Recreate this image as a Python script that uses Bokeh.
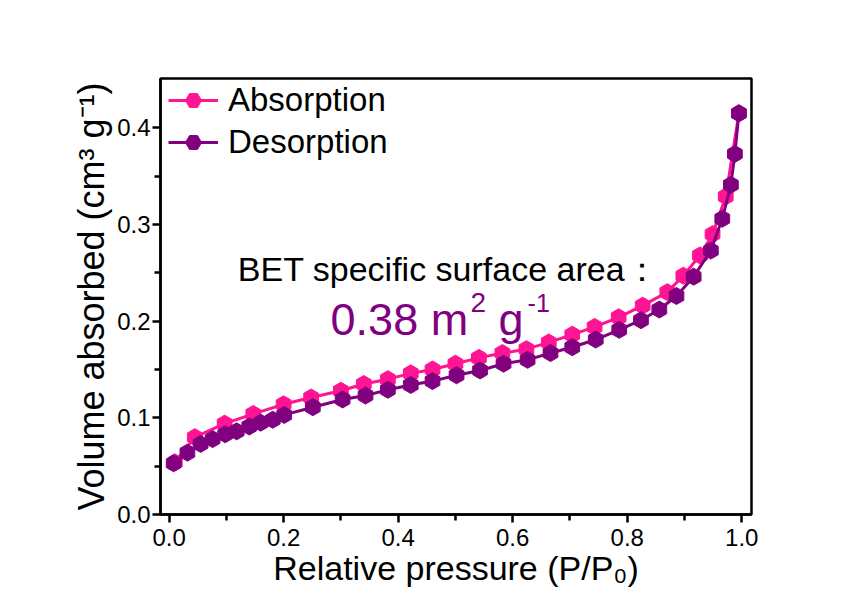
import math
from bokeh.plotting import figure
from bokeh.models import (ColumnDataSource, FixedTicker, Legend, LegendItem, Range1d)
from bokeh.core.properties import value
from bokeh.embed import file_html
from bokeh.resources import INLINE

# ---- data ----
ads_x = [0.01, 0.045, 0.097, 0.147, 0.2, 0.248, 0.3, 0.34, 0.382, 0.422, 0.46, 0.5, 0.541,
         0.582, 0.624, 0.663, 0.704, 0.743, 0.785, 0.827, 0.87, 0.898, 0.927, 0.949, 0.972, 0.995]
ads_y = [0.054, 0.080, 0.094, 0.104, 0.114, 0.121, 0.128, 0.135, 0.140, 0.146, 0.150, 0.156, 0.162,
         0.167, 0.171, 0.178, 0.186, 0.194, 0.204, 0.216, 0.230, 0.247, 0.268, 0.290, 0.329, 0.415]

des_x = [0.008, 0.032, 0.055, 0.076, 0.098, 0.118, 0.14, 0.16, 0.181, 0.201, 0.251, 0.303, 0.343,
         0.382, 0.422, 0.46, 0.502, 0.543, 0.584, 0.626, 0.666, 0.704, 0.745, 0.786, 0.824, 0.856,
         0.886, 0.916, 0.946, 0.966, 0.981, 0.988, 0.995]
des_y = [0.053, 0.064, 0.073, 0.078, 0.083, 0.086, 0.091, 0.095, 0.098, 0.103, 0.111, 0.119, 0.123,
         0.129, 0.134, 0.138, 0.144, 0.149, 0.156, 0.160, 0.167, 0.173, 0.181, 0.191, 0.201, 0.212,
         0.226, 0.246, 0.273, 0.306, 0.341, 0.373, 0.415]

series_names = ["Absorption", "Desorption"]
x_ticks = [0.0, 0.2, 0.4, 0.6, 0.8, 1.0]
x_tick_labels = ["0.0", "0.2", "0.4", "0.6", "0.8", "1.0"]
x_minor = [0.1, 0.3, 0.5, 0.7, 0.9]
y_ticks = [0.0, 0.1, 0.2, 0.3, 0.4]
y_tick_labels = ["0.0", "0.1", "0.2", "0.3", "0.4"]
y_minor = [0.05, 0.15, 0.25, 0.35]

annot_title = "BET specific surface area\uff1a"
annot_value = "0.38 m"
annot_sup1 = "2"
annot_unit = "g"
annot_sup2 = "-1"
x_label = "Relative pressure (P/P\u2080)"
y_label = "Volume absorbed (cm\u00b3 g\u207b\u00b9)"

PINK = "#FF1493"
PURPLE = "#800080"
FONT = "Liberation Sans"

p = figure(frame_width=591, frame_height=436, output_backend="svg", toolbar_location=None,
           x_range=Range1d(-0.015, 1.017), y_range=Range1d(0, 0.451),
           min_border_left=160, min_border_right=90, min_border_top=78, min_border_bottom=85,
           background_fill_color="white", border_fill_color="white")
p.grid.visible = False
p.outline_line_color = "black"
p.outline_line_width = 2.5
p.outline_line_alpha = 1

for ax, ticks, labels, minor, lab in [(p.xaxis[0], x_ticks, x_tick_labels, x_minor, x_label),
                                     (p.yaxis[0], y_ticks, y_tick_labels, y_minor, y_label)]:
    ax.ticker = FixedTicker(ticks=ticks, minor_ticks=minor)
    ax.major_label_overrides = {t: l for t, l in zip(ticks, labels)}
    ax.axis_line_width = 2.5
    ax.major_tick_line_width = 2.5
    ax.minor_tick_line_width = 2.5
    ax.major_tick_out = 8
    ax.major_tick_in = 0
    ax.minor_tick_out = 6
    ax.minor_tick_in = 0
    ax.major_label_text_font = FONT
    ax.major_label_text_font_size = "24px"
    ax.major_label_text_color = "black"
    ax.axis_label = lab
    ax.axis_label_text_font = FONT
    ax.axis_label_text_font_style = "normal"
    ax.axis_label_text_color = "black"

p.xaxis[0].axis_label_text_font_size = "34px"
p.yaxis[0].axis_label_text_font_size = "36px"
p.xaxis[0].major_label_standoff = 6
p.xaxis[0].axis_label_standoff = 0
p.yaxis[0].major_label_standoff = 2
p.yaxis[0].axis_label_standoff = 2

ads = ColumnDataSource(dict(x=ads_x, y=ads_y))
des = ColumnDataSource(dict(x=des_x, y=des_y))

l1 = p.line("x", "y", source=ads, line_color=PINK, line_width=3)
s1 = p.scatter("x", "y", source=ads, marker="hex", size=17, angle=math.pi / 2,
               fill_color=PINK, line_color=PINK)
l2 = p.line("x", "y", source=des, line_color=PURPLE, line_width=3)
s2 = p.scatter("x", "y", source=des, marker="hex", size=17, angle=math.pi / 2,
               fill_color=PURPLE, line_color=PURPLE)

legend = Legend(items=[LegendItem(label=series_names[0], renderers=[l1, s1]),
                       LegendItem(label=series_names[1], renderers=[l2, s2])],
                location=(8, 352), glyph_width=50, glyph_height=40, spacing=2,
                padding=0, margin=0, label_standoff=10,
                label_text_font=FONT, label_text_font_size="33px", label_text_color="black",
                border_line_alpha=0, background_fill_alpha=0)
p.add_layout(legend, "center")

p.text(x=[0.12], y=[0.2544], text=[annot_title], text_font=value(FONT),
       text_font_size="34px", text_color="black", text_baseline="alphabetic")
p.text(x=[0.282], y=[0.2017], text=[annot_value], text_font=value(FONT),
       text_font_size="45px", text_color=PURPLE, text_baseline="alphabetic")
p.text(x=[0.282], y=[0.2017], text=[annot_sup1], x_offset=140, y_offset=-17, text_font=value(FONT),
       text_font_size="28px", text_color=PURPLE, text_baseline="alphabetic")
p.text(x=[0.282], y=[0.2017], text=[annot_unit], x_offset=168, text_font=value(FONT),
       text_font_size="45px", text_color=PURPLE, text_baseline="alphabetic")
p.text(x=[0.282], y=[0.2017], text=[annot_sup2], x_offset=197, y_offset=-17, text_font=value(FONT),
       text_font_size="25px", text_color=PURPLE, text_baseline="alphabetic")

open("out.html", "w").write(file_html(p, INLINE))
